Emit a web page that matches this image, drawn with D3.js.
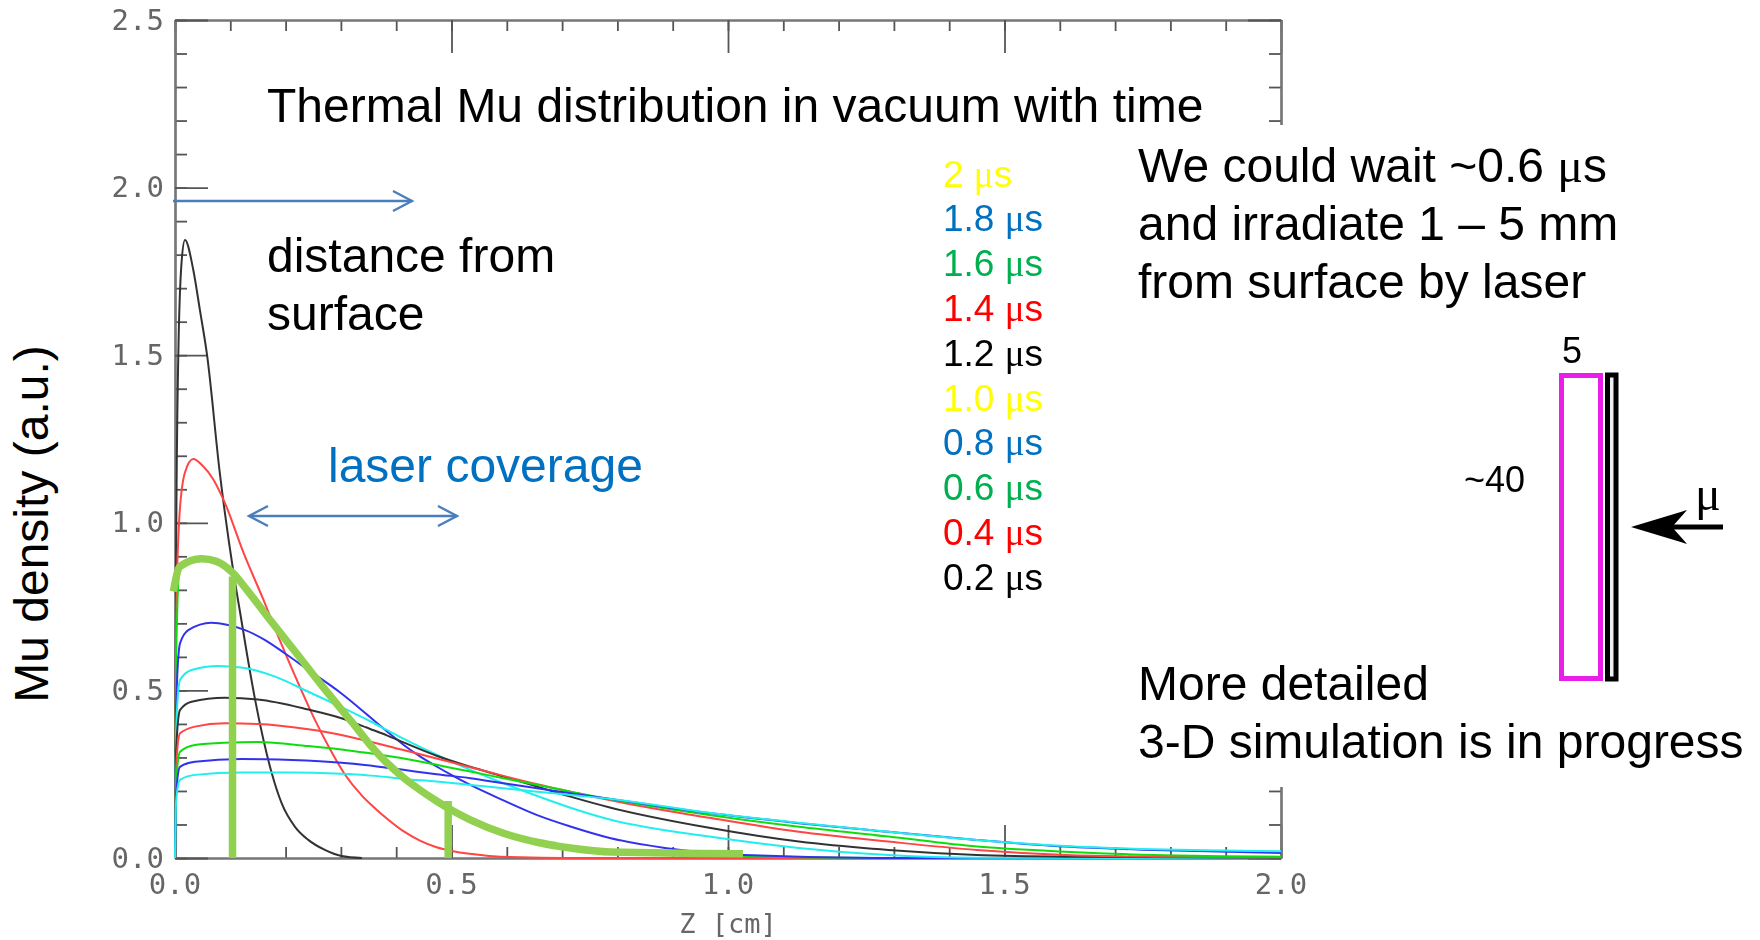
<!DOCTYPE html>
<html>
<head>
<meta charset="utf-8">
<script src="https://cdn.jsdelivr.net/npm/d3@7"></script>
<style>
  html, body { margin: 0; background: #fff; }
  svg { display: block; }
  text { font-family: "Liberation Sans", Arial, sans-serif; }
  .tick-label { font-family: "DejaVu Sans Mono", monospace; font-size: 29px; fill: #666; }
</style>
</head>
<body>
<svg id="chart" width="1760" height="940"></svg>
<script>
// curves as [z in cm, density]
const mu02 = [[0,0],[0.002,0.9],[0.006,1.5],[0.012,1.78],[0.018,1.844],[0.033,1.755],[0.045,1.635],[0.058,1.5],[0.081,1.149],[0.105,0.86],[0.12,0.71],[0.13,0.61],[0.145,0.471],[0.16,0.352],[0.175,0.253],[0.193,0.163],[0.217,0.093],[0.241,0.054],[0.271,0.024],[0.301,0.006],[0.338,0]];
const mu04 = [[0,0],[0.002,0.7],[0.008,1.02],[0.018,1.15],[0.033,1.19],[0.05,1.17],[0.069,1.13],[0.09,1.06],[0.124,0.91],[0.16,0.77],[0.187,0.66],[0.223,0.521],[0.253,0.412],[0.277,0.335],[0.307,0.25],[0.338,0.186],[0.362,0.148],[0.383,0.118],[0.413,0.08],[0.443,0.052],[0.473,0.032],[0.503,0.02],[0.564,0.007],[0.624,0.002],[0.7,0],[2,0]];
const mu06 = [[0,0],[0.002,0.6],[0.009,0.87],[0.048,0.893],[0.075,0.885],[0.105,0.85],[0.13,0.8],[0.172,0.71],[0.22,0.61],[0.27,0.505],[0.32,0.405],[0.362,0.32],[0.383,0.284],[0.413,0.24],[0.443,0.203],[0.473,0.17],[0.503,0.14],[0.534,0.114],[0.594,0.074],[0.655,0.047],[0.715,0.03],[0.788,0.018],[1.03,0.005],[1.3,0],[2,0]];
const mu08 = [[0,0],[0.002,0.45],[0.009,0.64],[0.024,0.68],[0.066,0.702],[0.096,0.695],[0.127,0.68],[0.163,0.65],[0.199,0.61],[0.241,0.561],[0.301,0.491],[0.353,0.42],[0.383,0.378],[0.413,0.338],[0.443,0.303],[0.473,0.273],[0.503,0.245],[0.534,0.218],[0.594,0.172],[0.655,0.128],[0.715,0.094],[0.788,0.059],[0.886,0.03],[1.03,0.009],[1.3,0],[2,0]];
const mu10 = [[0,0],[0.002,0.38],[0.009,0.531],[0.03,0.561],[0.078,0.573],[0.12,0.568],[0.181,0.541],[0.241,0.496],[0.301,0.45],[0.353,0.408],[0.383,0.382],[0.413,0.356],[0.473,0.308],[0.534,0.263],[0.594,0.223],[0.655,0.185],[0.715,0.15],[0.788,0.114],[0.966,0.064],[1.128,0.03],[1.29,0.009],[1.45,0.001],[2,0]];
const mu12 = [[0,0],[0.002,0.32],[0.009,0.441],[0.03,0.466],[0.09,0.478],[0.15,0.473],[0.241,0.443],[0.301,0.417],[0.353,0.385],[0.383,0.366],[0.413,0.345],[0.473,0.305],[0.534,0.272],[0.594,0.243],[0.655,0.213],[0.715,0.183],[0.788,0.15],[0.966,0.09],[1.128,0.049],[1.29,0.024],[1.45,0.009],[1.61,0.004],[2,0.001]];
const mu14 = [[0,0],[0.002,0.27],[0.009,0.372],[0.036,0.392],[0.09,0.402],[0.15,0.4],[0.241,0.384],[0.301,0.367],[0.353,0.347],[0.413,0.322],[0.473,0.297],[0.534,0.271],[0.594,0.245],[0.655,0.22],[0.715,0.198],[0.788,0.172],[0.966,0.12],[1.128,0.078],[1.29,0.049],[1.45,0.024],[1.61,0.009],[1.77,0.004],[2,0.002]];
const mu16 = [[0,0],[0.002,0.22],[0.009,0.317],[0.036,0.337],[0.09,0.344],[0.15,0.346],[0.241,0.334],[0.301,0.324],[0.362,0.31],[0.443,0.288],[0.503,0.268],[0.564,0.248],[0.624,0.228],[0.685,0.208],[0.788,0.175],[0.966,0.128],[1.128,0.093],[1.29,0.064],[1.45,0.034],[1.61,0.019],[1.77,0.009],[2,0.004]];
const mu18 = [[0,0],[0.002,0.19],[0.009,0.272],[0.036,0.287],[0.12,0.295],[0.211,0.292],[0.301,0.284],[0.362,0.274],[0.413,0.263],[0.473,0.25],[0.534,0.238],[0.594,0.223],[0.655,0.208],[0.715,0.193],[0.788,0.176],[0.966,0.134],[1.128,0.104],[1.29,0.078],[1.45,0.054],[1.61,0.034],[1.77,0.024],[2,0.015]];
const mu20 = [[0,0],[0.002,0.17],[0.009,0.233],[0.036,0.248],[0.12,0.255],[0.211,0.255],[0.301,0.251],[0.362,0.245],[0.413,0.236],[0.473,0.228],[0.534,0.218],[0.594,0.208],[0.655,0.198],[0.715,0.188],[0.788,0.176],[0.966,0.135],[1.128,0.105],[1.29,0.078],[1.45,0.054],[1.61,0.036],[1.77,0.026],[2,0.02]];

// thick hand-drawn overlay on the 0.6 us curve, and its two laser edges
const highlight = [[-0.003,0.795],[0.009,0.87],[0.048,0.893],[0.075,0.885],[0.105,0.85],[0.13,0.8],[0.172,0.71],[0.22,0.61],[0.27,0.505],[0.32,0.405],[0.362,0.32],[0.383,0.284],[0.413,0.24],[0.443,0.203],[0.473,0.17],[0.503,0.14],[0.534,0.114],[0.594,0.074],[0.655,0.047],[0.715,0.03],[0.788,0.018],[1.027,0.013]];
const laserEdges = [[0.104,0.84],[0.494,0.17]];

const curves = [mu02, mu04, mu06, mu08, mu10, mu12, mu14, mu16, mu18, mu20];
const curveColors = ["#333", "#f44", "#1d1", "#33e", "#2ee", "#333", "#f44", "#1d1", "#33e", "#2ee"];

const legendTimes = ["2", "1.8", "1.6", "1.4", "1.2", "1.0", "0.8", "0.6", "0.4", "0.2"];
const legendColors = ["#ffff00", "#0070c0", "#00b050", "#ff0000", "#000", "#ffff00", "#0070c0", "#00b050", "#ff0000", "#000"];

const zMajor = [0, 0.5, 1, 1.5, 2];
const zMinor = d3.range(0, 21).map(d => d / 10);
const yMajor = [0, 0.5, 1, 1.5, 2, 2.5];
const yMinor = d3.range(0, 26).map(d => d / 10);

const svg = d3.select("#chart");

const x = d3.scaleLinear().domain([0, 2]).range([175, 1281]);
const y = d3.scaleLinear().domain([0, 2.5]).range([858, 20]);

const defs = svg.append("defs");
defs.append("filter").attr("id", "soft")
  .attr("x", "-5%").attr("y", "-5%").attr("width", "110%").attr("height", "110%")
  .append("feGaussianBlur").attr("stdDeviation", 0.6);

// the plot was a pasted low-res image, so it gets a slight blur
const plot = svg.append("g").attr("filter", "url(#soft)");

function addAxis(axis, tx, ty) {
  const g = plot.append("g")
    .attr("transform", `translate(${tx},${ty})`)
    .call(axis);
  g.selectAll("path").attr("stroke", "#777").attr("stroke-width", 2.2);
  g.selectAll("line").attr("stroke", "#555").attr("stroke-width", 1.8);
  g.selectAll("text").remove();
}

// frame and inward ticks, major and minor
[[zMinor, 11], [zMajor, 33]].forEach(([vals, len]) => {
  addAxis(d3.axisBottom(x).tickValues(vals).tickSizeOuter(0).tickSizeInner(-len), 0, y(0));
  addAxis(d3.axisTop(x).tickValues(vals).tickSizeOuter(0).tickSizeInner(-len), 0, y(2.5));
});
[[yMinor, 12], [yMajor, 33]].forEach(([vals, len]) => {
  addAxis(d3.axisLeft(y).tickValues(vals).tickSizeOuter(0).tickSizeInner(-len), x(0), 0);
  addAxis(d3.axisRight(y).tickValues(vals).tickSizeOuter(0).tickSizeInner(-len), x(2), 0);
});

// the text box on the slide hides most of the right side of the frame
plot.append("rect")
  .attr("x", 1235).attr("y", 125).attr("width", 60).attr("height", 662)
  .attr("fill", "#fff");

const line = d3.line()
  .x(d => x(d[0]))
  .y(d => y(d[1]))
  .curve(d3.curveMonotoneX);

plot.append("g").selectAll("path")
  .data(curves)
  .join("path")
  .attr("d", line)
  .attr("fill", "none")
  .attr("stroke", (d, i) => curveColors[i])
  .attr("stroke-width", 2);

// tick labels
plot.append("g").selectAll("text")
  .data(zMajor)
  .join("text")
  .attr("class", "tick-label")
  .attr("x", d => x(d))
  .attr("y", 894)
  .attr("text-anchor", "middle")
  .text(d => d.toFixed(1));

plot.append("g").selectAll("text")
  .data(yMajor)
  .join("text")
  .attr("class", "tick-label")
  .attr("x", 164)
  .attr("y", d => y(d) + 9.5)
  .attr("text-anchor", "end")
  .text(d => d.toFixed(1));

plot.append("text")
  .attr("class", "tick-label")
  .attr("x", x(1))
  .attr("y", 933)
  .attr("text-anchor", "middle")
  .style("font-size", "27px")
  .text("Z [cm]");

// green overlay
svg.append("path")
  .datum(highlight)
  .attr("d", line)
  .attr("fill", "none")
  .attr("stroke", "#92d050")
  .attr("stroke-width", 7.5);

svg.append("g").selectAll("line")
  .data(laserEdges)
  .join("line")
  .attr("x1", d => x(d[0]))
  .attr("x2", d => x(d[0]))
  .attr("y1", d => y(d[1]))
  .attr("y2", y(0))
  .attr("stroke", "#92d050")
  .attr("stroke-width", 7.5);

// slide annotations
function slideText(str, tx, ty, size, color) {
  return svg.append("text")
    .attr("x", tx).attr("y", ty)
    .attr("font-size", size)
    .attr("fill", color || "#000")
    .text(str);
}

// plain text followed by a serif mu, as on the slide
function muText(before, after, tx, ty, size, color) {
  const t = slideText(before, tx, ty, size, color);
  t.append("tspan").style("font-family", "'Liberation Serif', serif").text("μ");
  t.append("tspan").text(after);
  return t;
}

slideText("Thermal Mu distribution in vacuum with time", 267, 122, 48);
slideText("distance from", 267, 272, 48);
slideText("surface", 267, 330, 48);
slideText("laser coverage", 328, 482, 48, "#0070c0");

svg.append("text")
  .attr("transform", "translate(48,524) rotate(-90)")
  .attr("text-anchor", "middle")
  .attr("font-size", 48)
  .text("Mu density (a.u.)");

legendTimes.forEach((t, i) => {
  muText(t + " ", "s", 943, 186.5 + i * 44.8, 37, legendColors[i]);
});

muText("We could wait ~0.6 ", "s", 1138, 182, 48);
slideText("and irradiate 1 – 5 mm", 1138, 240, 48);
slideText("from surface by laser", 1138, 298, 48);
slideText("More detailed", 1138, 700, 48);
slideText("3-D simulation is in progress", 1138, 758, 48);

// blue double and single arrows
function openArrow(x1, x2, ay, both) {
  const g = svg.append("g")
    .attr("fill", "none").attr("stroke", "#4a7ebb").attr("stroke-width", 2.4);
  g.append("line").attr("x1", x1).attr("x2", x2).attr("y1", ay).attr("y2", ay);
  g.append("path").attr("d", `M${x2 - 19},${ay - 10} L${x2},${ay} L${x2 - 19},${ay + 10}`);
  if (both) g.append("path").attr("d", `M${x1 + 19},${ay - 10} L${x1},${ay} L${x1 + 19},${ay + 10}`);
}
openArrow(173, 412, 201, false);
openArrow(249, 457, 516, true);

// target sketch
svg.append("rect")
  .attr("x", 1561.5).attr("y", 375.5).attr("width", 39).attr("height", 303)
  .attr("fill", "none").attr("stroke", "#e81fe8").attr("stroke-width", 5);
svg.append("rect")
  .attr("x", 1607.5).attr("y", 375).attr("width", 8.5).attr("height", 304)
  .attr("fill", "#eee").attr("stroke", "#000").attr("stroke-width", 5);

slideText("5", 1562, 363, 36);
slideText("~40", 1464, 492, 36);
svg.append("text")
  .attr("x", 1695).attr("y", 510)
  .attr("font-size", 48)
  .style("font-family", "'Liberation Serif', serif")
  .text("μ");

svg.append("line")
  .attr("x1", 1670).attr("x2", 1723).attr("y1", 527).attr("y2", 527)
  .attr("stroke", "#000").attr("stroke-width", 5);
svg.append("path")
  .attr("d", "M1631,527 L1687,510 L1672,527 L1687,544 Z")
  .attr("fill", "#000");
</script>
</body>
</html>
